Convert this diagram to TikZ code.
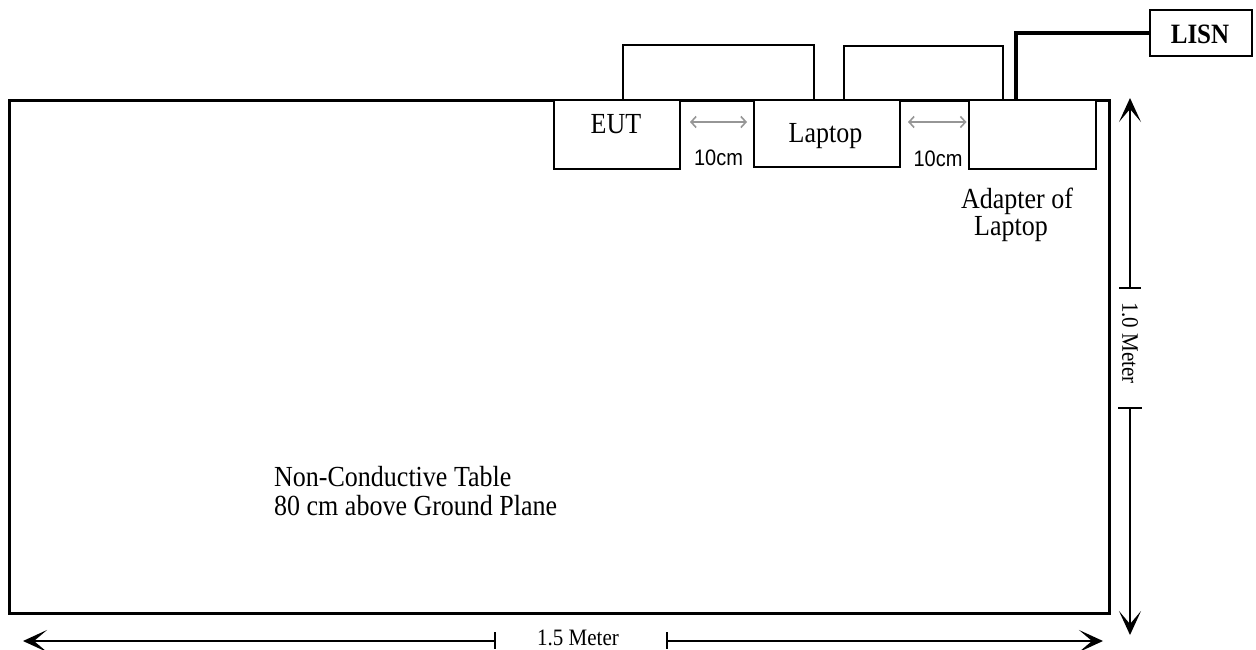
\documentclass[tikz,border=0pt]{standalone}
\usepackage{fontspec}
\setmainfont{Liberation Serif}
\newfontfamily\arialf{Liberation Sans}
\usetikzlibrary{arrows.meta,calc}
\definecolor{arrgray}{RGB}{150,150,150}
\newcommand\tallt[1]{\scalebox{1}[1.12]{#1}}
\begin{document}
\begin{tikzpicture}[x=1pt,y=-1pt,
  dimtip/.tip={Stealth[length=24pt,width=22pt,inset=13pt]},
  gaptip/.tip={Straight Barb[length=5pt,width=11pt]},
  tablebox/.style={draw,line width=3pt,inner sep=0pt,anchor=north west},
  devbox/.style={draw,line width=2pt,inner sep=0pt,anchor=north west,fill=white},
  lbl/.style={inner sep=0pt,font=\fontsize{26}{29}\selectfont},
  cmlbl/.style={inner sep=0pt,font=\arialf\fontsize{20}{22}\selectfont},
  dimlbl/.style={inner sep=0pt,font=\fontsize{21}{24}\selectfont},
  wire/.style={line width=2pt},
  power/.style={line width=4pt},
  gap/.style={draw=arrgray,line width=1.6pt,gaptip-gaptip},
  dim/.style={line width=2pt,-dimtip},
  dimtick/.style={line width=2pt}]
\useasboundingbox (0,0) rectangle (1256,649);

% table
\node[tablebox,minimum width=1100.5pt,minimum height=513pt] (table) at (7.5,99) {};

% devices
\node[devbox,minimum width=126pt,minimum height=69pt] (eut) at (553,99) {};
\node[devbox,minimum width=146pt,minimum height=67pt] (laptop) at (753,99) {};
\node[devbox,minimum width=127pt,minimum height=69pt] (adapter) at (968,99) {};
\node[devbox,minimum width=102pt,minimum height=46pt] (lisn) at (1149,9) {};

% cables
\draw[wire] ([xshift=6pt]eut.north) -- ++(0,-54) -| ([xshift=-13pt]laptop.north);
\draw[wire] ([xshift=17pt]laptop.north) -- ++(0,-53) -| ([xshift=-29.5pt]adapter.north);
\draw[power] ([xshift=-16.5pt]adapter.north) |- (lisn.west);

% labels
\node[lbl,anchor=base] (eutlbl) at (616,133) {\tallt{EUT}};
\node[lbl,anchor=base] (laplbl) at (825.5,142) {\tallt{Laptop}};
\node[lbl,anchor=base] (adplbl1) at (1017,208) {\tallt{Adapter of}};
\node[lbl,anchor=base] (adplbl2) at (1011,235) {\tallt{Laptop}};
\node[inner sep=0pt,anchor=base,font=\bfseries\fontsize{25}{28}\selectfont] (lisnlbl) at (1200,43) {\tallt{LISN}};
\node[lbl,anchor=base west] (tbl1) at (274,486) {\tallt{Non-Conductive Table}};
\node[lbl,anchor=base west] (tbl2) at (274,515) {\tallt{80 cm above Ground Plane}};

% 10 cm gaps
\draw[gap] ($(eut.north east)+(9,23)$) -- ($(laptop.north west)+(-6,23)$);
\draw[gap] ($(laptop.north east)+(7,23)$) -- ($(adapter.north west)+(-1.5,23)$);
\node[cmlbl,anchor=base] (cm1) at (718.5,165) {\tallt{10cm}};
\node[cmlbl,anchor=base] (cm2) at (938,166) {\tallt{10cm}};

% horizontal dimension
\coordinate (hL) at (23,641);
\coordinate (hT1) at (495,641);
\coordinate (hT2) at (667,641);
\coordinate (hR) at (1103,641);
\draw[dim] (hT1) -- (hL);
\draw[dim] (hT2) -- (hR);
\draw[dimtick] ([yshift=9pt]hT1) -- ([yshift=-8pt]hT1);
\draw[dimtick] ([yshift=9pt]hT2) -- ([yshift=-8pt]hT2);
\node[dimlbl,anchor=base] (hlbl) at (578,645) {\tallt{1.5 Meter}};

% vertical dimension
\coordinate (vT) at (1130,98);
\coordinate (vA) at (1130,288);
\coordinate (vB) at (1130,408);
\coordinate (vBot) at (1130,635);
\draw[dim] (vA) -- (vT);
\draw[dim] (vB) -- (vBot);
\draw[dimtick] ([xshift=-11pt]vA) -- ([xshift=11pt]vA);
\draw[dimtick] ([xshift=-12pt]vB) -- ([xshift=12pt]vB);
\node[dimlbl,rotate=-90] (vlbl) at (1130,343) {\tallt{1.0 Meter}};
\end{tikzpicture}
\end{document}
